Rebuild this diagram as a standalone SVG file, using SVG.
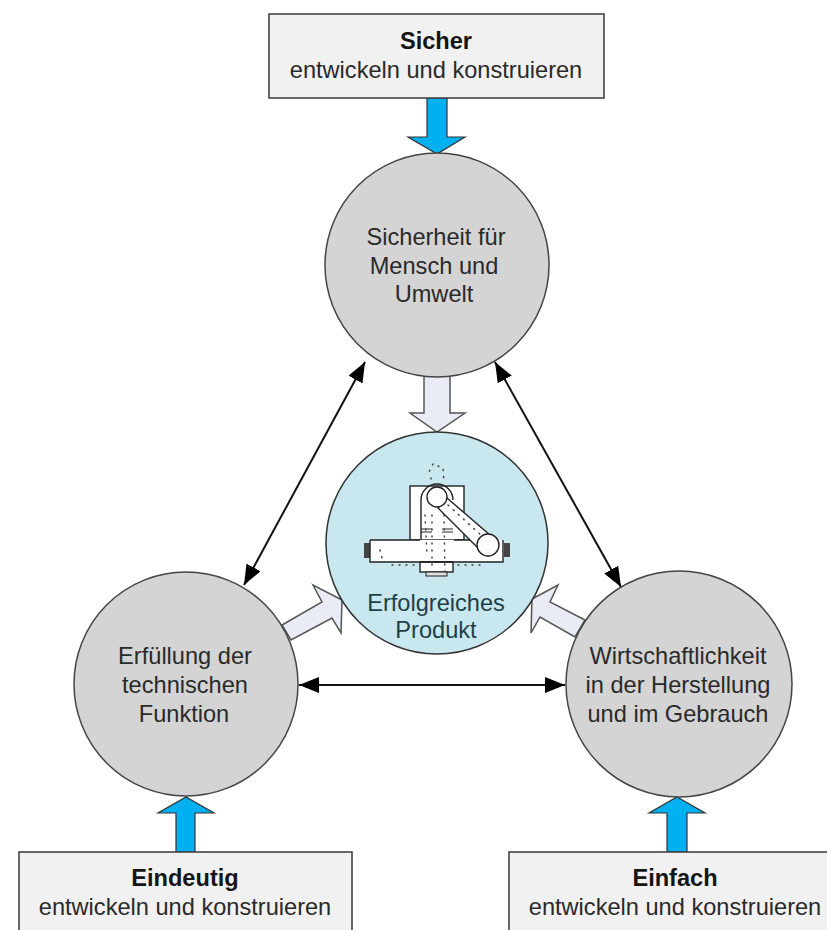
<svg xmlns="http://www.w3.org/2000/svg" width="827" height="930" viewBox="0 0 827 930">
<style>
text{font-family:"Liberation Sans",Arial,sans-serif;font-size:23.6px;fill:#2a2a2a;text-anchor:middle}
.b{font-weight:bold;fill:#151515}
.t{fill:#1e3f48}
.box{fill:#f1f1f1;stroke:#444;stroke-width:1.6}
.c{fill:#d4d4d4;stroke:#444;stroke-width:1.5}
.blue{fill:#00b0f0;stroke:#333;stroke-width:1.2}
.pale{fill:#e9ecf4;stroke:#555;stroke-width:1.5}
.line{stroke:#111;stroke-width:2;fill:none;marker-start:url(#h);marker-end:url(#h)}
.m{fill:#fff;stroke:#222;stroke-width:1.4}
.n{fill:none;stroke:#222;stroke-width:1.4}
.d{fill:none;stroke:#444;stroke-width:1.5;stroke-dasharray:1 6;stroke-linecap:round}
</style>
<defs>
<marker id="h" markerUnits="userSpaceOnUse" markerWidth="22" markerHeight="16" refX="20" refY="8" orient="auto-start-reverse"><path d="M0 0L20 8L0 16Z" fill="#000"/></marker>
</defs>
<rect width="827" height="930" fill="#fff"/>
<g id="connectors">
<path class="blue" d="M427 98V137H408L437 154L465 137H447V98Z"/>
<path class="blue" d="M176 852V813H158L186 797L214 813H195V852Z"/>
<path class="blue" d="M667 852V813H649L677 797L705 813H687V852Z"/>
<path class="pale" d="M424 376V413H410L437 432L465 413H450V376Z"/>
<path class="pale" d="M282 625L322 602L313 585L342 600L341 633L332 618L291 640Z"/>
<path class="pale" d="M585 620L550 602L558 585L532 599L531 633L540 617L575 637Z"/>
<line class="line" x1="299" y1="685" x2="565" y2="685"/>
<line class="line" x1="365" y1="362" x2="244" y2="585"/>
<line class="line" x1="495" y1="362" x2="621" y2="587"/>
</g>
<g id="sicher"><rect class="box" x="269" y="14" width="335" height="84"/><text class="b" x="436" y="49">Sicher</text><text x="436" y="78">entwickeln und konstruieren</text></g>
<g id="eindeutig"><rect class="box" x="19" y="852" width="333" height="90"/><text class="b" x="185" y="886">Eindeutig</text><text x="185" y="915">entwickeln und konstruieren</text></g>
<g id="einfach"><rect class="box" x="509" y="852" width="330" height="90"/><text class="b" x="675" y="886">Einfach</text><text x="675" y="915">entwickeln und konstruieren</text></g>
<g id="sicherheit"><circle class="c" cx="437" cy="265" r="112"/><text x="436" y="245">Sicherheit für</text><text x="434" y="274">Mensch und</text><text x="434" y="302">Umwelt</text></g>
<g id="funktion"><circle class="c" cx="186" cy="684" r="112"/><text x="185" y="664">Erfüllung der</text><text x="185" y="693">technischen</text><text x="184" y="722">Funktion</text></g>
<g id="wirtschaftlichkeit"><circle class="c" cx="679" cy="684" r="113"/><text x="678" y="664">Wirtschaftlichkeit</text><text x="678" y="693">in der Herstellung</text><text x="678" y="722">und im Gebrauch</text></g>
<g id="produkt"><circle cx="437" cy="543" r="111" fill="#c8e7ee" stroke="#333" stroke-width="1.5"/>
<g id="maschine">
<rect class="m" x="410" y="486" width="54" height="54"/>
<path class="n" d="M421 540V500A16 16 0 0 1 453 500"/>
<path d="M421 529H432M442 529H453M421 532H432M442 532H453" stroke="#222" stroke-width="1"/>
<rect x="364" y="543" width="6" height="15" fill="#444"/><rect x="504" y="543" width="6" height="14" fill="#444"/>
<rect x="370" y="540" width="133" height="22" fill="#fff"/>
<path class="n" d="M370 540V562H503V540M370 540H420M454 540H478"/>
<rect class="m" x="420" y="562" width="33" height="10"/><path class="n" d="M420 562H453" stroke="#fff"/><rect x="426" y="572" width="21" height="4" fill="#ddd" stroke="#222"/>
<path class="m" d="M447 498L490 535L478 548L438 508Z"/>
<circle class="m" cx="437" cy="497" r="10"/><circle class="m" cx="488" cy="545" r="11"/>
<path class="d" d="M433 464L429 472M438 466L443 468L444 482M431 478V480M432 515V570M425 515L427 555M444 515L445 575M448 505L482 536M392 565H418M458 565H485M380 550L382 558"/>
</g>
<text class="t" x="436" y="611">Erfolgreiches</text><text class="t" x="436" y="638">Produkt</text></g>
</svg>
